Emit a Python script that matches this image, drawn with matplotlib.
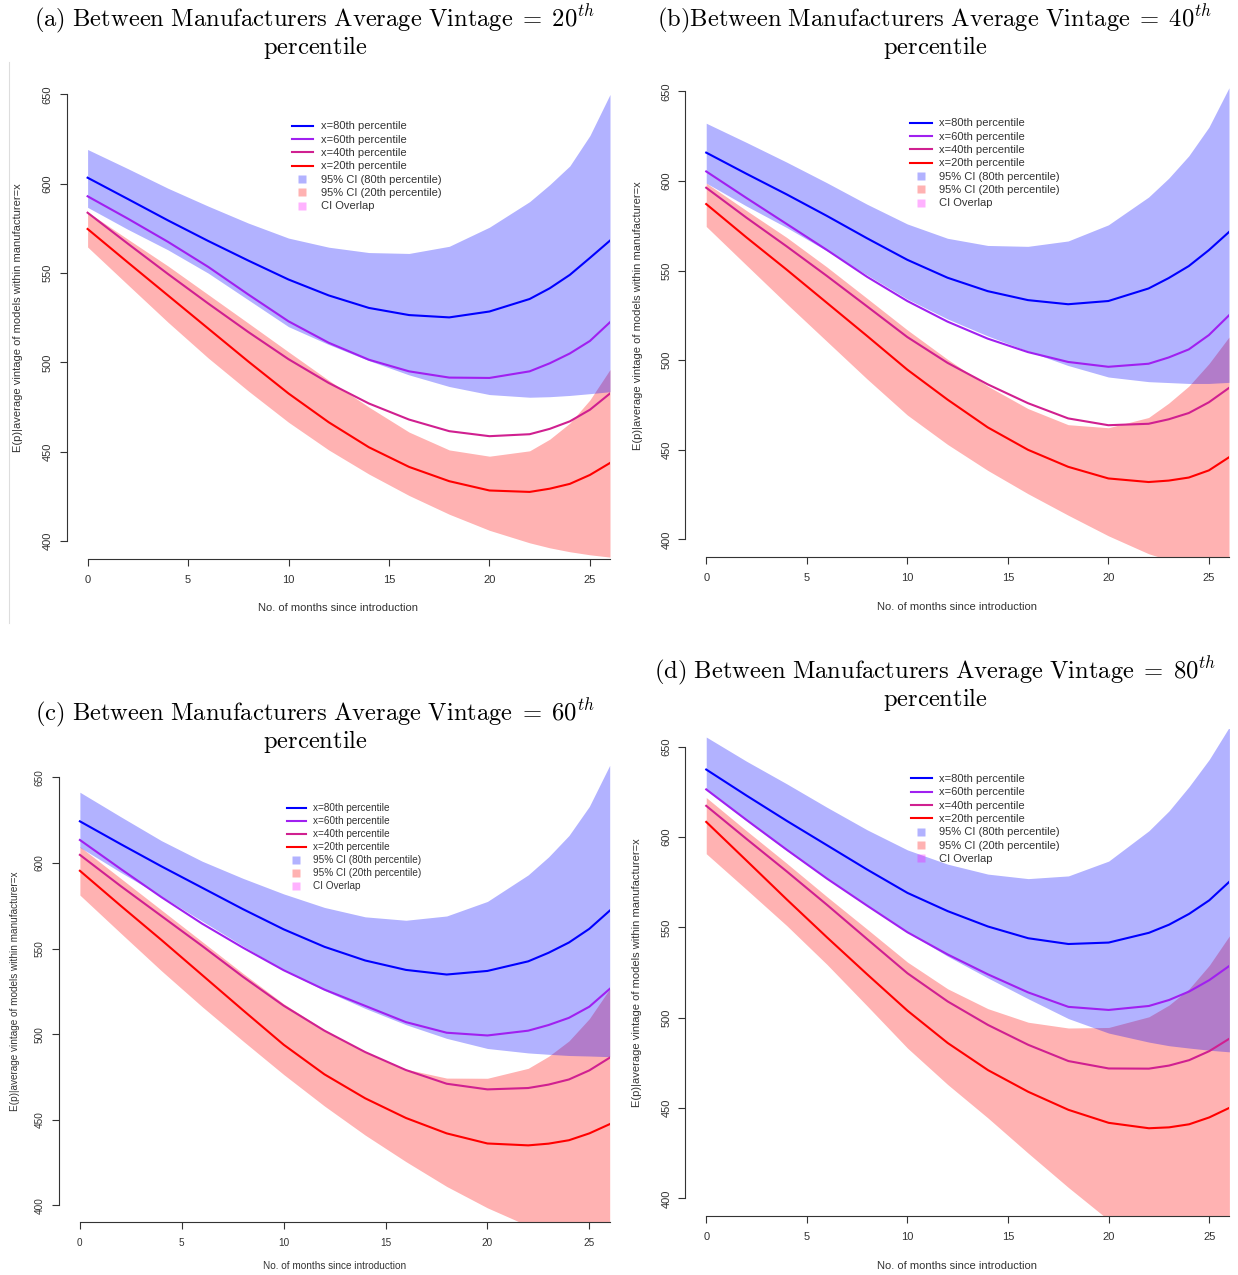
import matplotlib
matplotlib.use("Agg")
import matplotlib.pyplot as plt
from matplotlib.lines import Line2D

plt.rcParams['mathtext.fontset'] = 'cm'
plt.rcParams['font.family'] = ['Liberation Sans', 'DejaVu Sans']

W, H = 1238, 1275

months = [0, 2, 4, 6, 8, 10, 12, 14, 16, 18, 20, 22, 23, 24, 25, 26]
yticks = [400, 450, 500, 550, 600, 650]
xticks = [0, 5, 10, 15, 20, 25]

legend_labels = ["x=80th percentile", "x=60th percentile", "x=40th percentile",
                 "x=20th percentile", "95% CI (80th percentile)",
                 "95% CI (20th percentile)", "CI Overlap"]

# (a) between-manufacturer vintage = 20th percentile
a_p80 = [603.4, 591.5, 579.5, 568, 557, 546.4, 537.5, 530.5, 526.5, 525.2, 528.5, 535.5, 541.5, 549, 558.5, 568.2]
a_p60 = [593, 580.5, 567.5, 553.5, 538, 523, 511, 501.5, 495, 491.5, 491.3, 495, 499.5, 505, 512, 522.5]
a_p40 = [583.8, 566.5, 549.5, 533, 517, 501.8, 488.5, 477, 468, 461.5, 458.7, 459.8, 462.8, 467, 473.5, 482.6]
a_p20 = [574.7, 556, 537.5, 519, 500.5, 482.6, 466.5, 452.5, 441.5, 433.5, 428.3, 427.5, 429.3, 432, 437, 443.7]
a_ci80_hi = [619.2, 608.5, 597.5, 587.5, 578, 569.6, 564.5, 561.5, 561, 565, 575.7, 590, 599.5, 610, 627, 650]
a_ci80_lo = [586.8, 574.5, 563, 550, 535, 520, 510, 501, 493, 486.5, 482, 480.5, 480.8, 481.5, 482.5, 483.6]
a_ci20_hi = [584.2, 569, 554, 538, 522, 505.9, 490, 475, 461, 451, 447.5, 450.5, 457, 466, 479, 496]
a_ci20_lo = [564.6, 543.5, 522.5, 502.5, 484, 466.5, 451, 437.5, 425.5, 415, 406, 399, 396.2, 394, 392.3, 391]

# (b) 40th percentile
b_p80 = [615.8, 604, 592.5, 580.5, 568, 556, 546, 538.5, 533.5, 531.2, 533, 540, 545.8, 552.5, 561.4, 571.5]
b_p60 = [605.3, 590.5, 576, 561.5, 546.5, 533, 521.5, 512, 504.5, 499, 496.3, 498, 501.5, 506, 514, 525]
b_p40 = [596.2, 579.5, 563.5, 547, 530, 512.9, 498.5, 486.5, 476, 467.5, 463.7, 464.5, 467, 470.5, 476.5, 484.5]
b_p20 = [587.1, 568.5, 550.5, 532, 513.5, 494.7, 478, 462.5, 450, 440.5, 434, 432, 432.8, 434.5, 438.5, 445.8]
b_ci80_hi = [632.2, 621.5, 610.5, 599, 587, 576, 568, 564, 563.5, 566.5, 575.5, 591, 601.5, 614, 630, 652]
b_ci80_lo = [598.8, 586, 574, 561, 547.5, 534.1, 523, 513.5, 505, 497, 490.6, 488, 487.5, 487, 487, 487.6]
b_ci20_hi = [598.8, 583.5, 568.5, 552, 534.5, 516.9, 500.5, 485.5, 473, 464, 462.3, 468, 476, 485.5, 498, 512.9]
b_ci20_lo = [574.6, 553, 531.5, 510.5, 489.5, 469.4, 453, 438.5, 425.5, 413.5, 402, 392, 388.5, 386, 384, 382]

# (c) 60th percentile
c_p80 = [624.3, 611, 598, 585.5, 573, 561.2, 551, 543, 537.5, 534.8, 536.9, 542.5, 547.5, 553.5, 561.5, 572.1]
c_p60 = [613.4, 596.5, 580, 564.5, 550.5, 537.3, 526, 516.5, 507, 500.8, 499.2, 502, 505.3, 509.5, 516, 526.4]
c_p40 = [604.7, 586.5, 569, 551.5, 533.5, 516.6, 502, 489.5, 479, 471, 467.7, 468.5, 470.5, 473.5, 478.8, 486.2]
c_p20 = [595.4, 575, 555, 534.5, 514, 493.8, 476.5, 462.5, 451, 442, 436.1, 435, 436, 438, 442, 447.4]
c_ci80_hi = [641.3, 627, 613, 601, 591, 581.9, 574, 568.5, 566.5, 569, 577.5, 593, 603.5, 616, 633, 657]
c_ci80_lo = [609.1, 594.5, 580.5, 566, 551.5, 537.3, 525.5, 515, 505.5, 497.5, 491.6, 489, 488.2, 487.5, 487.2, 486.8]
c_ci20_hi = [609.5, 591, 572.5, 554, 535.5, 517.7, 502.5, 489.5, 479.5, 474.3, 474.2, 480, 487, 496, 509, 526.4]
c_ci20_lo = [581.2, 559, 537, 516, 496, 476.4, 458, 441, 425.5, 411, 398.5, 388, 385.5, 383.5, 382, 381]

# (d) 80th percentile
d_p80 = [637.4, 623, 609, 595.5, 582, 569.1, 559, 550.5, 544, 540.8, 541.6, 547, 551.5, 557.5, 565, 575.3]
d_p60 = [626.4, 609.5, 593, 577, 562, 547.3, 535, 524, 514, 506, 504.3, 506.5, 509.8, 514.5, 520.8, 528.7]
d_p40 = [617.3, 599, 581, 562.5, 543.5, 524.6, 509, 496, 485, 476, 471.9, 471.8, 473.5, 476.5, 481.5, 488.4]
d_p20 = [608.4, 587, 565.5, 544.5, 524, 503.9, 486, 471, 459, 449, 441.8, 438.8, 439.3, 441, 444.8, 450.1]
d_ci80_hi = [655.4, 642, 629.5, 616.5, 604, 592.9, 585, 579.5, 577, 578.5, 586.7, 603.5, 614.5, 628, 643, 661]
d_ci80_lo = [626, 609, 592.5, 577, 562, 547.3, 534, 522, 510.5, 499.5, 491.5, 486.5, 484.5, 483.2, 482, 481.1]
d_ci20_hi = [621.9, 603.5, 585.5, 567, 549, 530.8, 516, 505, 497.5, 494.3, 494.6, 500.5, 507, 516, 529, 545.3]
d_ci20_lo = [590.8, 571, 551, 529.5, 506.5, 483.2, 463, 444.5, 425, 406, 388, 378, 375.5, 373.5, 372, 370]

line_colors = ["#0000FF", "#A020F0", "#D02090", "#FF0000"]
fill80 = (0, 0, 1, 0.3)
fill20 = (1, 0, 0, 0.3)
fill_overlap = (1, 0, 1, 0.3)
text_col = "#333333"

panels = [
    dict(tag="(a) ", pct="20", lines=[a_p80, a_p60, a_p40, a_p20],
         ci80=(a_ci80_lo, a_ci80_hi), ci20=(a_ci20_lo, a_ci20_hi),
         box=(66.7, 610, 76.6, 558.9), title_y=(26, 54), title_x=315,
         fs=8, ylab_x=-0.0896, xlab_y=-0.1018),
    dict(tag="(b)", pct="40", lines=[b_p80, b_p60, b_p40, b_p20],
         ci80=(b_ci80_lo, b_ci80_hi), ci20=(b_ci20_lo, b_ci20_hi),
         box=(685.3, 1229, 73.4, 557.3), title_y=(26, 54), title_x=935,
         fs=8, ylab_x=-0.087, xlab_y=-0.1027),
    dict(tag="(c) ", pct="60", lines=[c_p80, c_p60, c_p40, c_p20],
         ci80=(c_ci80_lo, c_ci80_hi), ci20=(c_ci20_lo, c_ci20_hi),
         box=(58.7, 609.7, 760.2, 1222.4), title_y=(720, 748), title_x=315,
         fs=7.2, ylab_x=-0.0793, xlab_y=-0.0943),
    dict(tag="(d) ", pct="80", lines=[d_p80, d_p60, d_p40, d_p20],
         ci80=(d_ci80_lo, d_ci80_hi), ci20=(d_ci20_lo, d_ci20_hi),
         box=(685.3, 1229.4, 728.7, 1216.4), title_y=(678, 706), title_x=935,
         fs=8, ylab_x=-0.0888, xlab_y=-0.1017),
]

fig = plt.figure(figsize=(W / 100, H / 100), dpi=100)

for p in panels:
    l, r, t, b = p["box"]
    ax = fig.add_axes([l / W, 1 - b / H, (r - l) / W, (b - t) / H])
    fs = p["fs"]

    ax.fill_between(months, p["ci20"][0], p["ci20"][1], color=fill20, lw=0)
    ax.fill_between(months, p["ci80"][0], p["ci80"][1], color=fill80, lw=0)
    for vals, c in zip(p["lines"], line_colors):
        ax.plot(months, vals, color=c, lw=1.5)

    ax.set_xlim(-1.04, 26)
    ax.set_ylim(390, 660)
    ax.set_facecolor("none")
    for s in ["top", "right"]:
        ax.spines[s].set_visible(False)
    ax.spines["left"].set_bounds(400, 650)
    ax.spines["bottom"].set_bounds(0, 26)
    for s in ["left", "bottom"]:
        ax.spines[s].set_color(text_col)
        ax.spines[s].set_linewidth(0.8)

    ax.set_xticks(xticks)
    ax.set_yticks(yticks)
    ax.tick_params(length=5, width=0.8, color=text_col, labelcolor=text_col,
                   labelsize=fs, pad=6.5)
    ax.tick_params(axis="y", labelrotation=90, pad=5)
    for lab in ax.get_yticklabels():
        lab.set_va("center")

    ax.set_xlabel("No. of months since introduction", fontsize=fs, color=text_col)
    ax.set_ylabel("E(p)|average vintage of models within manufacturer=x",
                  fontsize=fs, color=text_col)
    ax.xaxis.set_label_coords(0.5, p["xlab_y"])
    ax.yaxis.set_label_coords(p["ylab_x"], 0.5)
    ax.xaxis.label.set_va("center")
    ax.yaxis.label.set_va("center")

    handles = [Line2D([], [], color=c, lw=1.5) for c in line_colors]
    for fc in [fill80, fill20, fill_overlap]:
        handles.append(Line2D([], [], ls="none", marker="s", markersize=6,
                              markerfacecolor=fc, markeredgecolor="none"))
    leg = ax.legend(handles, legend_labels, loc="upper left",
                    bbox_to_anchor=(0.414, 0.907), frameon=False, fontsize=fs,
                    handlelength=1.9, handletextpad=0.7, labelspacing=0.3,
                    borderpad=0, borderaxespad=0)
    for txt in leg.get_texts():
        txt.set_color(text_col)

    title1 = (r"$\mathrm{" + p["tag"].replace(" ", r"\ ")
              + r"Between\ Manufacturers\ Average\ Vintage}\;=\;"
              + p["pct"] + r"^{th}$")
    fig.text(p["title_x"] / W, 1 - p["title_y"][0] / H, title1,
             ha="center", va="baseline", fontsize=17.7)
    fig.text(p["title_x"] / W, 1 - p["title_y"][1] / H, r"$\mathrm{percentile}$",
             ha="center", va="baseline", fontsize=17.7)

# thin border left of panel (a)
fig.add_artist(Line2D([9.3 / W, 9.3 / W], [1 - 62 / H, 1 - 623 / H],
                      color="#DDDDDD", lw=0.8))

fig.savefig("out.png", dpi=100)
